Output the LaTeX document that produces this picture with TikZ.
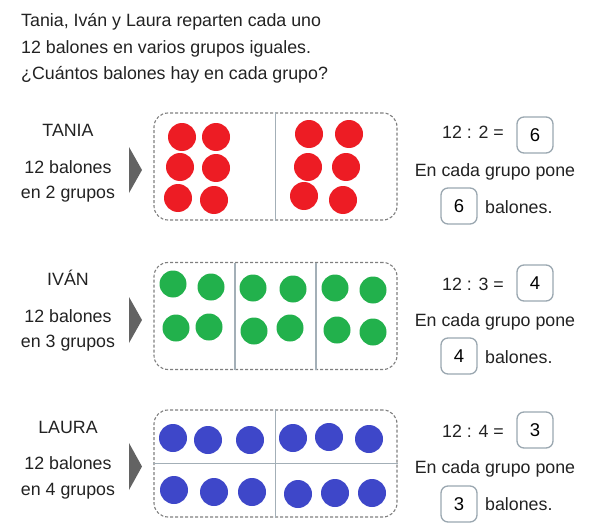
\documentclass[tikz,border=0pt]{standalone}
\usepackage{fontspec}
\setmainfont{Liberation Sans}
\definecolor{textgray}{HTML}{222222}
\definecolor{ballred}{HTML}{ED1C24}
\definecolor{ballgreen}{HTML}{22B14C}
\definecolor{ballblue}{HTML}{3E47C9}
\definecolor{divgray}{HTML}{A3AFB7}
\definecolor{dashgray}{HTML}{7F7F7F}
\definecolor{arrowgray}{HTML}{636363}
\definecolor{ansgray}{HTML}{9AA7B0}
\begin{document}
\begin{tikzpicture}[x=1pt,y=-1pt,
  txt/.style={font=\fontsize{17.8}{21}\selectfont, text=textgray, inner sep=0pt, anchor=base},
  txtw/.style={txt, anchor=base west},
  ball/.style={circle, minimum size=28pt, inner sep=0pt, draw=none},
  ballr/.style={ball, fill=ballred},
  ballg/.style={ball, fill=ballgreen, minimum size=27pt},
  ballb/.style={ball, fill=ballblue},
  dashbox/.style={draw=dashgray, dash pattern=on 3pt off 2pt, line width=1.1pt, rounded corners=14pt, minimum width=243pt, minimum height=107pt, inner sep=0pt},
  divider/.style={draw=divgray, line width=1.3pt},
  ansbox/.style={draw=ansgray, line width=1.3pt, rounded corners=7pt, minimum size=36pt, inner sep=0pt, font=\fontsize{18.5}{21}\selectfont, text=black},
  pointer/.style={fill=arrowgray, draw=none}
]
\useasboundingbox (0,0) rectangle (600,527);

% Title
\node[txtw] (title1) at (21,27) {Tania, Iván y Laura reparten cada uno};
\node[txtw] (title2) at (21,54) {12 balones en varios grupos iguales.};
\node[txtw] (title3) at (21,80) {¿Cuántos balones hay en cada grupo?};

% ---------- TANIA ----------
\node[txt] (tname) at (68,136) {TANIA};
\node[txt] (tl1) at (68,173) {12 balones};
\node[txt] (tl2) at (68,198) {en 2 grupos};
\fill[pointer] (129,147) -- (142,170) -- (129,193) -- cycle;
\node[dashbox] (tbox) at (275.5,166.5) {};
\draw[divider] (tbox.north) -- (tbox.south);
\node[ballr] (t1) at (182,137) {};
\node[ballr] (t2) at (216,137) {};
\node[ballr] (t3) at (180,167) {};
\node[ballr] (t4) at (216,168) {};
\node[ballr] (t5) at (178,198) {};
\node[ballr] (t6) at (214,200) {};
\node[ballr] (t7) at (309,134) {};
\node[ballr] (t8) at (349,134) {};
\node[ballr] (t9) at (308,167) {};
\node[ballr] (t10) at (346,167) {};
\node[ballr] (t11) at (304,196) {};
\node[ballr] (t12) at (343,200) {};
\node[txt] (teq) at (473,139) {12 : 2 =};
\node[ansbox] (tans1) at (535,135) {6};
\node[txt] (tpone) at (495,176) {En cada grupo pone};
\node[ansbox] (tans2) at (459,206) {6};
\node[txtw] (tbal) at (485,213) {balones.};

% ---------- IVAN ----------
\node[txt] (iname) at (68,285) {IVÁN};
\node[txt] (il1) at (68,322) {12 balones};
\node[txt] (il2) at (68,347) {en 3 grupos};
\fill[pointer] (129,297) -- (142,320) -- (129,343) -- cycle;
\node[dashbox] (ibox) at (275.5,316) {};
\coordinate (id1t) at (235,262.5);
\coordinate (id1b) at (235,369.5);
\coordinate (id2t) at (316,262.5);
\coordinate (id2b) at (316,369.5);
\draw[divider] (id1t) -- (id1b);
\draw[divider] (id2t) -- (id2b);
\node[ballg] (i1) at (173,284) {};
\node[ballg] (i2) at (211,287) {};
\node[ballg] (i3) at (253,288) {};
\node[ballg] (i4) at (293,289) {};
\node[ballg] (i5) at (335,288) {};
\node[ballg] (i6) at (373,290) {};
\node[ballg] (i7) at (176,328) {};
\node[ballg] (i8) at (209,327) {};
\node[ballg] (i9) at (254,331) {};
\node[ballg] (i10) at (290,328) {};
\node[ballg] (i11) at (337,330) {};
\node[ballg] (i12) at (373,332) {};
\node[txt] (ieq) at (473,290) {12 : 3 =};
\node[ansbox] (ians1) at (535,283) {4};
\node[txt] (ipone) at (495,326) {En cada grupo pone};
\node[ansbox] (ians2) at (459,356) {4};
\node[txtw] (ibal) at (485,363) {balones.};

% ---------- LAURA ----------
\node[txt] (lname) at (68,433) {LAURA};
\node[txt] (ll1) at (68,469) {12 balones};
\node[txt] (ll2) at (68,495) {en 4 grupos};
\fill[pointer] (129,443) -- (142,466.5) -- (129,490) -- cycle;
\node[dashbox] (lbox) at (275.5,463.5) {};
\draw[divider] (lbox.north) -- (lbox.south);
\draw[divider] (lbox.west) -- (lbox.east);
\node[ballb] (l1) at (173,438) {};
\node[ballb] (l2) at (208,440) {};
\node[ballb] (l3) at (250,440) {};
\node[ballb] (l4) at (293,438) {};
\node[ballb] (l5) at (329,437) {};
\node[ballb] (l6) at (369,439) {};
\node[ballb] (l7) at (174,490) {};
\node[ballb] (l8) at (214,492) {};
\node[ballb] (l9) at (252,492) {};
\node[ballb] (l10) at (298,494) {};
\node[ballb] (l11) at (335,493) {};
\node[ballb] (l12) at (372,493) {};
\node[txt] (leq) at (473,437) {12 : 4 =};
\node[ansbox] (lans1) at (535,430) {3};
\node[txt] (lpone) at (495,473) {En cada grupo pone};
\node[ansbox] (lans2) at (459,504) {3};
\node[txtw] (lbal) at (485,510) {balones.};
\end{tikzpicture}
\end{document}
